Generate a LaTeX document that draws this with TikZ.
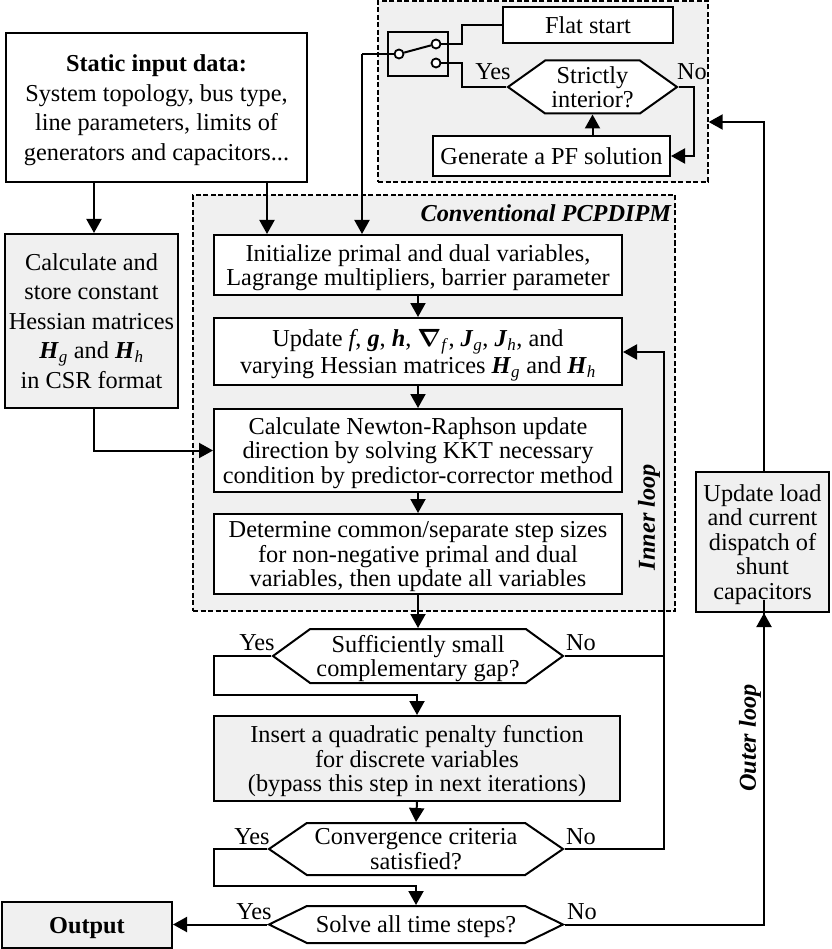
\documentclass[tikz,border=0pt]{standalone}
\usepackage{fontspec}
\setmainfont{Liberation Serif}
\usetikzlibrary{arrows.meta,shapes.symbols}

\newcommand{\bv}[1]{\textbf{\textit{#1}}}
\newcommand{\bvs}[2]{\textbf{\textit{#1}}\textsubscript{\textit{#2}}}

\begin{document}
\begin{tikzpicture}[x=1pt, y=-1pt]

\definecolor{panel}{gray}{0.94}

\tikzstyle{every node} = [font=\fontsize{24.3}{24.5}\selectfont, align=center, inner sep=0pt, line width=2pt]
\tikzstyle{wide} = [font=\fontsize{24.3}{29.5}\selectfont]
\tikzstyle{lines} = [text depth=0pt]
\tikzstyle{whitebox} = [rectangle, draw, fill=white]
\tikzstyle{graybox} = [rectangle, draw, fill=panel]
\tikzstyle{region} = [rectangle, draw, fill=panel, line width=1.3pt, dash pattern=on 5pt off 2.5pt]
\tikzstyle{decision} = [signal, signal to=east and west, draw, fill=white]
\tikzstyle{contact} = [circle, draw, fill=white, minimum size=9pt, line width=1.8pt]
\tikzstyle{looplabel} = [font=\fontsize{24.3}{24.5}\selectfont\bfseries\itshape]
\tikzstyle{flow} = [-{Triangle[length=14pt,width=15pt]}, line width=2pt]
\tikzstyle{wire} = [-, line width=2pt]

\useasboundingbox (0,0) rectangle (831,949);

% dashed regions
\node[region, minimum width=330pt, minimum height=181pt] (start) at (543,91.5) {};
\node[region, minimum width=482pt, minimum height=416pt] (conv) at (434,403) {};
\node[looplabel, anchor=east] (convlabel) at (672,213) {Conventional PCPDIPM};

% starting point selection
\node[whitebox, minimum width=170pt, minimum height=36pt] (flat) at (588,25) {Flat start};
\node[decision, minimum width=169pt, minimum height=53pt, signal pointer angle=71] (interior) at (592.5,87) {Strictly\\interior?};
\node[whitebox, minimum width=237pt, minimum height=40pt] (pf) at (551.5,156) {Generate a PF solution};
\node[rectangle, draw, minimum width=60pt, minimum height=44pt] (switch) at (418,54) {};
\node[contact] (swin) at (399,54) {};
\node[contact] (swa) at (436,44) {};
\node[contact] (swb) at (436,63) {};

% left column
\node[whitebox, wide, lines, minimum width=301pt, minimum height=149pt] (static) at (156.5,107.5) {\textbf{Static input data:}\\System topology, bus type,\\line parameters, limits of\\generators and capacitors...};
\node[graybox, wide, lines, minimum width=173pt, minimum height=174pt] (hess) at (91.5,321) {Calculate and\\store constant\\Hessian matrices\\\bvs{H}{g} and \bvs{H}{h}\\in CSR format};
\node[graybox, lines, minimum width=170pt, minimum height=46pt] (out) at (87,925) {\textbf{Output}};

% main column
\node[whitebox, lines, minimum width=408pt, minimum height=60pt] (init) at (418,265) {Initialize primal and dual variables,\\Lagrange multipliers, barrier parameter};
\node[whitebox, lines, font=\fontsize{24.3}{27}\selectfont, minimum width=408pt, minimum height=67pt] (upd) at (418,351.5) {Update \textit{f}, \bv{g}, \bv{h}, {\boldmath$\nabla$}\textsubscript{\textit{f}}, \bvs{J}{g}, \bvs{J}{h}, and\\varying Hessian matrices \bvs{H}{g} and \bvs{H}{h}};
\node[whitebox, lines, minimum width=408pt, minimum height=83pt] (newton) at (418,450.5) {Calculate Newton-Raphson update\\direction by solving KKT necessary\\condition by predictor-corrector method};
\node[whitebox, lines, minimum width=408pt, minimum height=80pt] (stepsize) at (418,554) {Determine common/separate step sizes\\for non-negative primal and dual\\variables, then update all variables};
\node[decision, lines, minimum width=290pt, minimum height=54pt, signal pointer angle=72] (gap) at (418,656) {Sufficiently small\\complementary gap?};
\node[graybox, lines, minimum width=406pt, minimum height=85pt] (penalty) at (417,758.5) {Insert a quadratic penalty function\\for discrete variables\\(bypass this step in next iterations)};
\node[decision, lines, minimum width=294pt, minimum height=52pt, signal pointer angle=69] (conv2) at (416,849) {Convergence criteria\\satisfied?};
\node[decision, lines, minimum width=294pt, minimum height=37pt, signal pointer angle=52] (allsteps) at (416,924.5) {Solve all time steps?};

% right column
\node[graybox, lines, minimum width=133pt, minimum height=140pt] (load) at (762.5,542) {Update load\\and current\\dispatch of\\shunt\\capacitors};

% yes / no
\node (y1) at (493,72) {Yes};
\node (n1) at (692,72) {No};
\node (y2) at (257,643) {Yes};
\node (n2) at (581,643) {No};
\node (y3) at (252,837) {Yes};
\node (n3) at (581,837) {No};
\node (y4) at (254,912) {Yes};
\node (n4) at (582,912) {No};

\node[looplabel, rotate=90] (inner) at (649,517) {Inner loop};
\node[looplabel, rotate=90] (outer) at (750,738) {Outer loop};

% bend points
\coordinate (hfrom) at (94,182);
\coordinate (sfrom) at (267,182);
\coordinate (swout) at (362,54);
\coordinate (jog) at (462,44);
\coordinate (back) at (664,352);
\coordinate (outerx) at (764,122);
\coordinate (yleft) at (214,695);
\coordinate (yleft2) at (214,886);

% switch wiring
\draw[wire] (swin) -- (swa);
\draw[wire] (swa) -- (jog) |- (flat.west);
\draw[wire] (swb) -| (jog |- interior) -- (interior.west);
\draw[wire] (swin) -- (swout);
\draw[flow] (swout) -- (swout |- init.north);
\draw[flow] (interior.east) -| (694,156) -- (pf.east);
\draw[flow] (pf.north -| interior) -- (interior.south);

% inputs
\draw[flow] (hfrom) -- (hfrom |- hess.north);
\draw[flow] (sfrom) -- (sfrom |- init.north);
\draw[flow] (hfrom |- hess.south) |- (newton.west);

% main flow
\draw[flow] (init) -- (upd);
\draw[flow] (upd) -- (newton);
\draw[flow] (newton) -- (stepsize);
\draw[flow] (stepsize) -- (gap.north);
\draw[flow] (gap.west) -| (yleft) -- (yleft -| penalty) -- (penalty.north);
\draw[flow] (penalty.south) -- (conv2.north);
\draw[flow] (conv2.west) -| (yleft2) -- (yleft2 -| conv2) -- (allsteps.north);
\draw[flow] (allsteps.west) -- (out.east |- allsteps.west);

% loops
\draw[wire] (gap.east) -- (gap.east -| back);
\draw[flow] (conv2.east) -| (back) -- (back -| upd.east);
\draw[flow] (allsteps.east) -| (load.south -| outerx) -- (load.south -| outerx);
\draw[flow] (load.north -| outerx) -- (outerx) -- (start.east |- outerx);

\end{tikzpicture}
\end{document}
